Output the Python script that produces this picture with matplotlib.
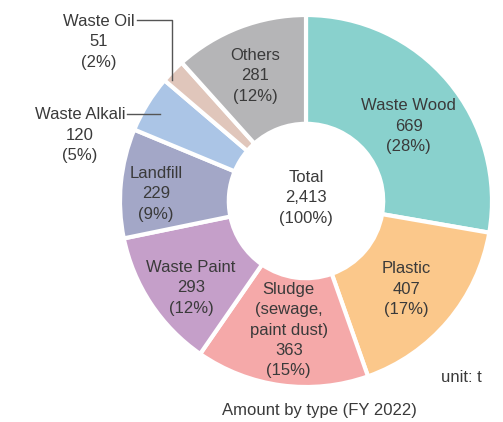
import numpy as np
import matplotlib.pyplot as plt

# waste amounts by type, clockwise from the top
categories = ['Waste Wood', 'Plastic', 'Sludge\n(sewage,\npaint dust)', 'Waste Paint',
              'Landfill', 'Waste Alkali', 'Waste Oil', 'Others']
amounts = [669, 407, 363, 293, 229, 120, 51, 281]
percents = [28, 17, 15, 12, 9, 5, 2, 12]
colors = ['#89d1cd', '#fbc88b', '#f5a9a9', '#c59fc9',
          '#a3a7c7', '#abc5e6', '#e0c6bb', '#b5b5b7']
total = 2413

plt.rcParams['font.family'] = ['Liberation Sans', 'DejaVu Sans']
txt_color = '#3a3a3a'
fs = 12
ls = 1.45

fig = plt.figure(figsize=(5.03, 4.22), dpi=100)
ax = fig.add_axes([0, 0, 1, 1])

cx, cy, R = 306, 221, 186
wedges, _ = ax.pie(amounts, colors=colors, startangle=90, counterclock=False,
                   center=(cx, cy), radius=R, frame=True,
                   wedgeprops=dict(width=R * 0.585, edgecolor='white', linewidth=3))
ax.set_xlim(0, 503)
ax.set_ylim(0, 422)
ax.axis('off')

# label radius (fraction of R) and small nudges for the inside labels
lab_r = {0: 0.70, 1: 0.72, 2: 0.70, 3: 0.74, 4: 0.80, 7: 0.72}
nudge = {0: (3, -9), 1: (-2, -2), 2: (0, 0), 3: (0, -11), 4: (-2, -7), 7: (-3, 0)}
for i, w in enumerate(wedges):
    if i not in lab_r:
        continue
    ang = np.deg2rad((w.theta1 + w.theta2) / 2)
    x = cx + R * lab_r[i] * np.cos(ang) + nudge[i][0]
    y = cy + R * lab_r[i] * np.sin(ang) + nudge[i][1]
    ax.text(x, y, f'{categories[i]}\n{amounts[i]}\n({percents[i]}%)',
            ha='center', va='center', fontsize=fs, color=txt_color, linespacing=ls)

# outside labels with leader lines
ax.text(99, 380, f'{categories[6]}\n{amounts[6]}\n({percents[6]}%)', ha='center', va='center',
        fontsize=fs, color=txt_color, linespacing=ls)
ax.plot([137, 172, 172], [402, 402, 342], color='#555555', lw=1)
ax.text(80, 287, f'{categories[5]}\n{amounts[5]}\n({percents[5]}%)', ha='center', va='center',
        fontsize=fs, color=txt_color, linespacing=ls)
ax.plot([127, 160], [308, 308], color='#555555', lw=1)

ax.text(cx, 224, f'Total\n{total:,}\n(100%)', ha='center', va='center',
        fontsize=fs, color=txt_color, linespacing=ls)

ax.text(482, 45, 'unit: t', ha='right', va='center', fontsize=fs, color=txt_color)
ax.text(319, 12, 'Amount by type (FY 2022)', ha='center', va='center',
        fontsize=fs, color=txt_color)

fig.savefig('out.png', dpi=100)
